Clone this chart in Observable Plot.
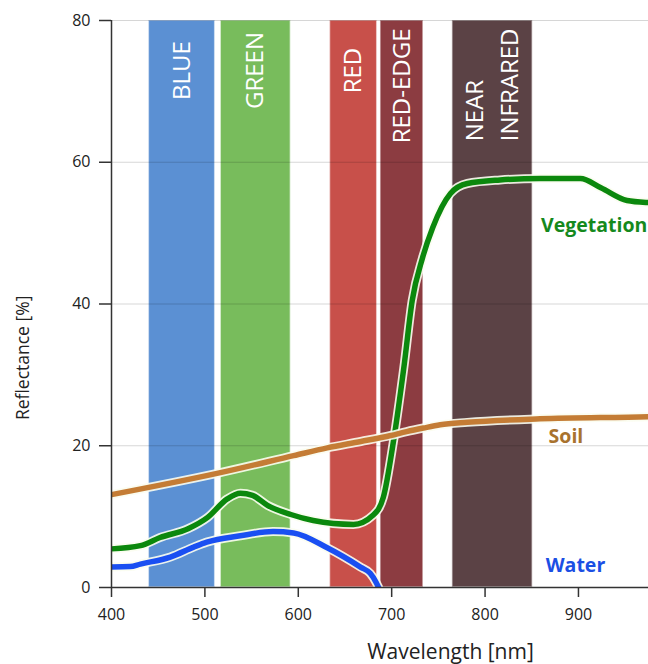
<!DOCTYPE html>
<html>
<head>
<meta charset="utf-8">
<script src="https://cdn.jsdelivr.net/npm/d3@7"></script>
<script src="https://cdn.jsdelivr.net/npm/@observablehq/plot@0.6"></script>
<style>
  body { margin: 0; background: #fff; }
  #chart svg { display: block; }
</style>
</head>
<body>
<div id="chart"></div>
<script>
// Spectral bands (nm)
const bandNames  = ["BLUE", "GREEN", "RED", "RED-EDGE", "NEAR\nINFRARED"];
const bandStart  = [440, 517, 634, 688, 765];
const bandEnd    = [511, 592, 684.5, 734, 851];
const bandColors = ["#5b90d3", "#78bc5c", "#c8504a", "#8c3c41", "#5b4245"];

// Reflectance curves: wavelength (nm) and reflectance (%)
const vegetationWl   = [400, 431, 452, 482, 503, 524, 538, 551, 567, 592, 616, 659, 680, 691, 702, 713, 722, 733, 744, 763, 781, 816, 859, 902, 924, 952, 975, 1000];
const vegetationRefl = [5.45, 5.9, 7.05, 8.3, 9.9, 12.5, 13.3, 13.0, 11.6, 10.3, 9.45, 8.9, 10.2, 12.7, 20.7, 31, 40.5, 46.5, 50.8, 55.6, 57, 57.5, 57.7, 57.7, 56.4, 54.6, 54.3, 54.2];

const soilWl   = [400, 513, 595, 631, 667, 699, 716, 734, 752, 781, 859, 975, 1000];
const soilRefl = [13.1, 16.1, 18.6, 19.7, 20.6, 21.45, 22.0, 22.5, 22.95, 23.3, 23.8, 24.1, 24.2];

const waterWl   = [400, 420, 431, 463, 488, 502, 538, 573, 595, 631, 667, 677, 683, 686];
const waterRefl = [2.9, 2.95, 3.3, 4.3, 5.7, 6.4, 7.3, 7.9, 7.7, 5.6, 2.85, 2.0, 0.8, 0];

// Series styling and inline labels
const seriesNames      = ["Vegetation", "Soil", "Water"];
const seriesColors     = ["#0b880d", "#c47c35", "#1a4ff2"];
const seriesTextColors = ["#15891d", "#a8722e", "#1b4fe4"];
const seriesLabelWl    = [860, 868, 865];
const seriesLabelRefl  = [51.1, 21.2, 3.1];

const xTicks = [400, 500, 600, 700, 800, 900];
const yTicks = [0, 20, 40, 60, 80];

const font = "'Open Sans', sans-serif";

const bands = bandNames.map((name, i) => ({
  name, x1: bandStart[i], x2: bandEnd[i], color: bandColors[i], mid: (bandStart[i] + bandEnd[i]) / 2
}));

const toRows = (wl, refl) => wl.map((w, i) => ({w, r: refl[i]}));
const series = [
  toRows(vegetationWl, vegetationRefl),
  toRows(soilWl, soilRefl),
  toRows(waterWl, waterRefl)
];

// Band labels: rotated, centred near the top, but never running past the top edge;
// multi-line labels share a common baseline end and sit side by side.
const ctx = document.createElement("canvas").getContext("2d");
const bandFontSize = 24;
const bandLineGap = 35;
ctx.font = `${bandFontSize}px 'Open Sans'`;
const marginTop = 20;
const bandLabelMarks = bands.flatMap(b => {
  const lines = b.name.split("\n");
  const w = Math.max(...lines.map(s => ctx.measureText(s).width));
  const bottom = Math.max(70 + w / 2, 28 + w);
  return lines.map((line, j) => Plot.text([b], {
    x: "mid", text: () => line, frameAnchor: "top",
    dx: (j - (lines.length - 1) / 2) * bandLineGap, dy: bottom - marginTop,
    rotate: -90, textAnchor: "start", lineAnchor: "middle",
    fill: "white", fontSize: bandFontSize, fontFamily: font
  }));
});

const lineMarks = series.flatMap((rows, i) => [
  Plot.line(rows, {x: "w", y: "r", curve: "monotone-x", stroke: "#fbfdf0", strokeWidth: 9, strokeOpacity: 0.9, clip: true}),
  Plot.line(rows, {x: "w", y: "r", curve: "monotone-x", stroke: seriesColors[i], strokeWidth: 5.5, clip: true})
]);

const seriesLabels = seriesNames.map((name, i) => ({name, w: seriesLabelWl[i], r: seriesLabelRefl[i], color: seriesTextColors[i]}));

const chart = Plot.plot({
  width: 648,
  height: 664,
  marginLeft: 111,
  marginRight: 0,
  marginTop,
  marginBottom: 77,
  style: {fontFamily: font, fontSize: "16px", color: "#222", background: "#fff", overflow: "visible"},
  x: {domain: [400, 975]},
  y: {domain: [0, 80]},
  marks: [
    Plot.rect(bands, {x1: "x1", x2: "x2", y1: 0, y2: 80, fill: "color", stroke: "#ffffff", strokeOpacity: 0.55, strokeWidth: 1.5}),
    Plot.ruleY([20, 40, 60, 80], {stroke: "#000", strokeOpacity: 0.16, strokeWidth: 1.2}),
    ...bandLabelMarks,
    ...lineMarks,
    Plot.axisY({ticks: yTicks, tickSize: 12, tickPadding: 9, label: null, fontSize: 16, stroke: "#333", strokeWidth: 1.5}),
    Plot.axisX({ticks: xTicks, tickSize: 10, tickPadding: 11, label: null, fontSize: 16, stroke: "#333", strokeWidth: 1.5}),
    Plot.ruleX([400], {stroke: "#333", strokeWidth: 1.5}),
    Plot.ruleY([0], {stroke: "#333", strokeWidth: 1.5}),
    Plot.text(seriesLabels, {x: "w", y: "r", text: "name", fill: "color", textAnchor: "start", lineAnchor: "middle", fontWeight: "bold", fontSize: 19.5, fontFamily: font}),
    Plot.text(["Wavelength [nm]"], {x: 763, frameAnchor: "bottom", dy: 65, textAnchor: "middle", lineAnchor: "middle", fontSize: 21, fill: "#222", fontFamily: font}),
    Plot.text(["Reflectance [%]"], {y: 32.4, frameAnchor: "left", dx: -88, rotate: -90, textAnchor: "middle", lineAnchor: "middle", fontSize: 17.5, fill: "#222", fontFamily: font})
  ]
});

document.getElementById("chart").append(chart);
</script>
</body>
</html>
